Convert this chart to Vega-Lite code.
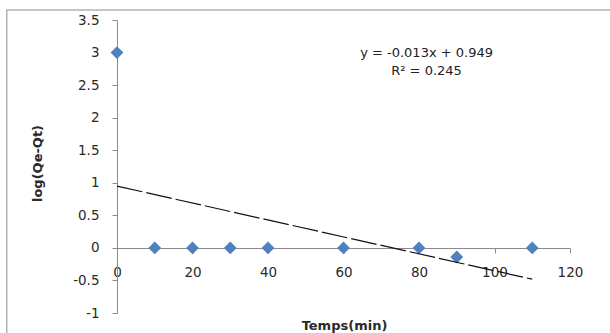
{
  "$schema": "https://vega.github.io/schema/vega-lite/v6.json",
  "width": 453,
  "height": 293,
  "autosize": {"type": "none"},
  "padding": {"left": 117, "top": 20, "right": 40, "bottom": 20},
  "background": "white",
  "config": {
    "view": {"stroke": null},
    "font": "DejaVu Sans",
    "axis": {"grid": false, "domainColor": "#8a8a8a", "tickColor": "#8a8a8a", "labelColor": "#2a2a2a", "titleColor": "#2a2a2a", "labelFont": "DejaVu Sans", "titleFont": "DejaVu Sans", "labelFontSize": 13.5, "titleFontSize": 13, "tickSize": 5, "labelOverlap": false}
  },
  "datasets": {
    "points": [
      {"t": 0, "v": 3.0},
      {"t": 10, "v": 0},
      {"t": 20, "v": 0},
      {"t": 30, "v": 0},
      {"t": 40, "v": 0},
      {"t": 60, "v": 0},
      {"t": 80, "v": 0},
      {"t": 90, "v": -0.14},
      {"t": 110, "v": 0}
    ],
    "trend": [
      {"t": 0, "v": 0.949},
      {"t": 110, "v": -0.481}
    ],
    "frame": [{"t": -29.2, "t2": 135, "v": 3.655, "v2": -1.7}],
    "notes": [
      {"label": "y = -0.013x + 0.949", "t": 82, "v": 3.0},
      {"label": "R² = 0.245", "t": 82, "v": 2.71}
    ]
  },
  "encoding": {
    "x": {
      "field": "t", "type": "quantitative",
      "scale": {"domain": [0, 120], "nice": false},
      "axis": {"values": [0, 20, 40, 60, 80, 100, 120], "offset": -65, "labelPadding": 12, "labelFlush": false, "title": "Temps(min)", "titleFontWeight": "bold", "titleY": 77, "titleBaseline": "middle", "titleX": 227}
    },
    "y": {
      "field": "v", "type": "quantitative",
      "scale": {"domain": [-1, 3.5], "nice": false},
      "axis": {"values": [-1, -0.5, 0, 0.5, 1, 1.5, 2, 2.5, 3, 3.5], "labelExpr": "'' + datum.value", "labelPadding": 13, "title": "log(Qe-Qt)", "titleFontWeight": "bold", "titleX": -80, "titleY": 143, "titleBaseline": "middle", "titleAlign": "center", "titleAngle": -90}
    }
  },
  "layer": [
    {
      "data": {"name": "points"},
      "mark": {"type": "point", "shape": "diamond", "filled": true, "size": 165, "color": "#4F81BD", "opacity": 1}
    },
    {
      "data": {"name": "trend"},
      "mark": {"type": "line", "color": "#111", "strokeWidth": 1.2, "strokeDash": [26, 4]}
    },
    {
      "data": {"name": "notes"},
      "mark": {"type": "text", "font": "DejaVu Sans", "fontSize": 13, "color": "#222", "align": "center", "baseline": "middle"},
      "encoding": {
        "text": {"field": "label"}
      }
    },
    {
      "data": {"name": "frame"},
      "mark": {"type": "rect", "filled": false, "stroke": "#b4b4b4", "strokeWidth": 1.5, "clip": false},
      "encoding": {
        "x2": {"field": "t2"},
        "y2": {"field": "v2"}
      }
    }
  ]
}
